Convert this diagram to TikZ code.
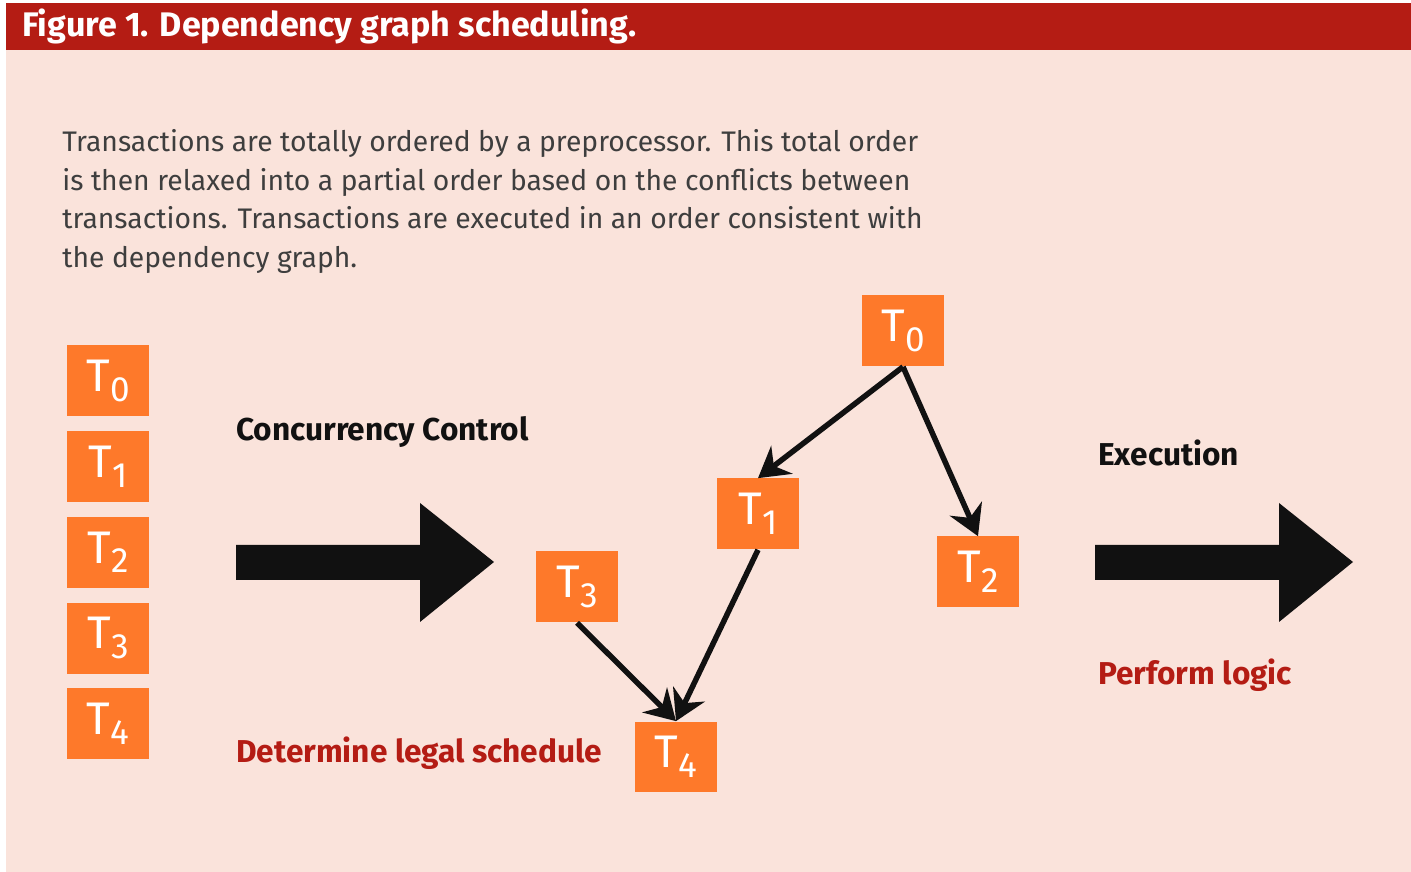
\documentclass[tikz,border=0pt]{standalone}
\usepackage{fontspec}
\setmainfont{Fira Sans}
\definecolor{figred}{RGB}{180,28,20}
\definecolor{figpink}{RGB}{250,227,219}
\definecolor{txorange}{RGB}{254,121,42}
\definecolor{figgray}{RGB}{62,62,62}
\definecolor{figblack}{RGB}{17,17,17}
\usetikzlibrary{positioning,arrows.meta}
\newcommand{\txlabel}[1]{T\raisebox{-5.5pt}{\fontsize{20}{20}\selectfont #1}}
\tikzset{
  txbox/.style={fill=txorange, text=white, minimum width=1.64cm, minimum height=1.42cm, inner sep=0pt, font=\fontsize{26}{26}\selectfont},
  dep/.style={-{Stealth[length=0.6cm,width=0.7cm,inset=0.2cm]}, line width=0.11cm, draw=figblack},
  stage/.style={anchor=west, inner sep=0pt, text=figblack, font=\bfseries\fontsize{18}{18}\selectfont},
  remark/.style={stage, text=figred},
}

\begin{document}
\begin{tikzpicture}[x=0.02cm, y=0.02cm]
  \useasboundingbox (0,0) rectangle (1411,872);

  % background and heading
  \fill[figpink] (6,0) rectangle (1411,822);
  \fill[figred] (6,822) rectangle (1411,869);
  \node[anchor=west, inner sep=0pt, text=white, font=\bfseries\fontsize{19.4}{19.4}\selectfont] (title) at (22,846) {Figure 1. Dependency graph scheduling.};

  \node[anchor=north west, inner sep=0pt, align=left, text=figgray, font=\fontsize{16.1}{22}\selectfont] (intro) at (62,743)
    {Transactions are totally ordered by a preprocessor. This total order\\
     is then relaxed into a partial order based on the conflicts between\\
     transactions. Transactions are executed in an order consistent with\\
     the dependency graph.};

  % total order
  \node[txbox] (o0) at (108,491) {\txlabel{0}};
  \node[txbox, below=0.28cm of o0] (o1) {\txlabel{1}};
  \node[txbox, below=0.28cm of o1] (o2) {\txlabel{2}};
  \node[txbox, below=0.28cm of o2] (o3) {\txlabel{3}};
  \node[txbox, below=0.28cm of o3] (o4) {\txlabel{4}};

  % concurrency control
  \node[stage] (cc) at (236,440) {Concurrency Control};
  \node[remark] (legal) at (236,119) {Determine legal schedule};
  \fill[figblack] (236,327) -- (420,327) -- (420,369) -- (494,310) -- (420,250) -- (420,292) -- (236,292) -- cycle;

  % dependency graph
  \node[txbox] (g0) at (903,541) {\txlabel{0}};
  \node[txbox] (g1) at (758,358) {\txlabel{1}};
  \node[txbox] (g2) at (978,300) {\txlabel{2}};
  \node[txbox] (g3) at (577,285) {\txlabel{3}};
  \node[txbox] (g4) at (676,115) {\txlabel{4}};

  \draw[dep] (g0.south) -- (g1.north);
  \draw[dep] (g0.south) -- (g2.north);
  \draw[dep] (g3.south) -- (g4.north);
  \draw[dep] (g1.south) -- (g4.north);

  % execution
  \node[stage] (exec) at (1098,419) {Execution};
  \node[remark] (logic) at (1098,197) {Perform logic};
  \fill[figblack] (1095,327) -- (1279,327) -- (1279,369) -- (1353,310) -- (1279,250) -- (1279,292) -- (1095,292) -- cycle;
\end{tikzpicture}
\end{document}
